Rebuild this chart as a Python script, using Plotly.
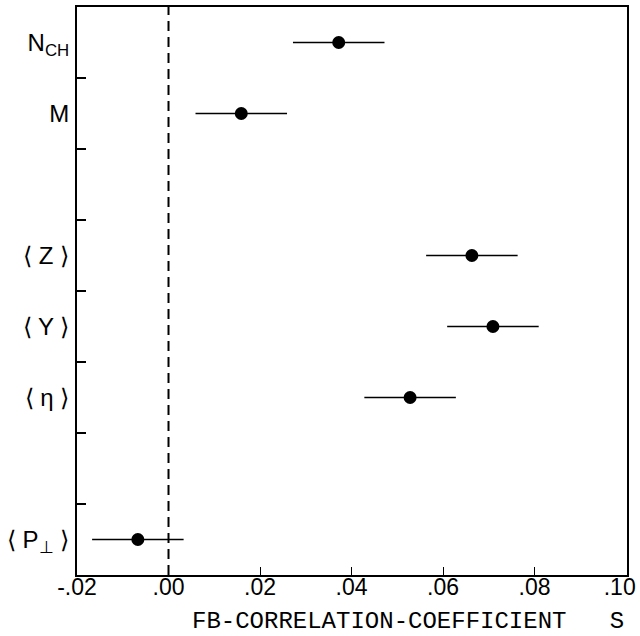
import plotly.graph_objects as go

# Data
labels = ["N<sub>CH</sub>", "M", "⟨ Z ⟩", "⟨ Y ⟩", "⟨ η ⟩", "⟨ P<sub>⊥</sub> ⟩"]
slots = [0.5, 1.5, 3.5, 4.5, 5.5, 7.5]
s_values = [0.0372, 0.0159, 0.0663, 0.0709, 0.0528, -0.0067]
s_errors = [0.0100, 0.0100, 0.0100, 0.0100, 0.0100, 0.0100]
x_tickvals = [-0.02, 0.00, 0.02, 0.04, 0.06, 0.08, 0.10]
x_ticktext = ["-.02", ".00", ".02", ".04", ".06", ".08", ".10&nbsp;&nbsp;"]
y_boundaries = [1, 2, 3, 4, 5, 6, 7]
x_title = "FB-CORRELATION-COEFFICIENT&nbsp;&nbsp;&nbsp;S"

fig = go.Figure()

fig.add_trace(go.Scatter(
    x=s_values, y=slots, mode="markers",
    marker=dict(color="black", size=13),
    error_x=dict(type="data", array=s_errors, color="black", thickness=1.6, width=0),
    showlegend=False,
))
# invisible trace to activate y2 ticks
fig.add_trace(go.Scatter(x=[None], y=[None], yaxis="y2", showlegend=False))

fig.add_shape(type="line", x0=0, x1=0, y0=0, y1=1, xref="x", yref="paper",
              line=dict(color="black", width=2, dash="10px,6px"))

fig.add_annotation(text=x_title, xref="paper", yref="paper", x=0.205, y=-0.055,
                   xanchor="left", yanchor="top", showarrow=False,
                   font=dict(family="Liberation Mono, Courier New, monospace", size=24))

fig.update_layout(
    width=640, height=636,
    margin=dict(l=77, r=13, t=7, b=61),
    paper_bgcolor="white", plot_bgcolor="white",
    font=dict(family="Liberation Sans, Arial, sans-serif", color="black"),
    xaxis=dict(
        range=[-0.02, 0.1002], tickvals=x_tickvals, ticktext=x_ticktext,
        ticks="inside", ticklen=8, tickwidth=1.2, tickcolor="black",
        showgrid=False, zeroline=False, showline=True, linecolor="black", linewidth=2,
        mirror=True, tickfont=dict(size=23), ticklabelstandoff=-10,
        ticklabeloverflow="allow", automargin=False,
    ),
    yaxis=dict(
        range=[8, 0], tickvals=slots, ticktext=labels, ticks="",
        showgrid=False, zeroline=False, showline=True, linecolor="black", linewidth=2,
        mirror=True, tickfont=dict(size=24), ticklabelstandoff=1, automargin=False,
    ),
    yaxis2=dict(
        range=[8, 0], overlaying="y", side="left", tickvals=y_boundaries,
        ticks="inside", ticklen=9, tickwidth=1.5, tickcolor="black",
        showticklabels=False, showgrid=False, zeroline=False, showline=False,
        automargin=False,
    ),
)

fig.write_html("out.html")
